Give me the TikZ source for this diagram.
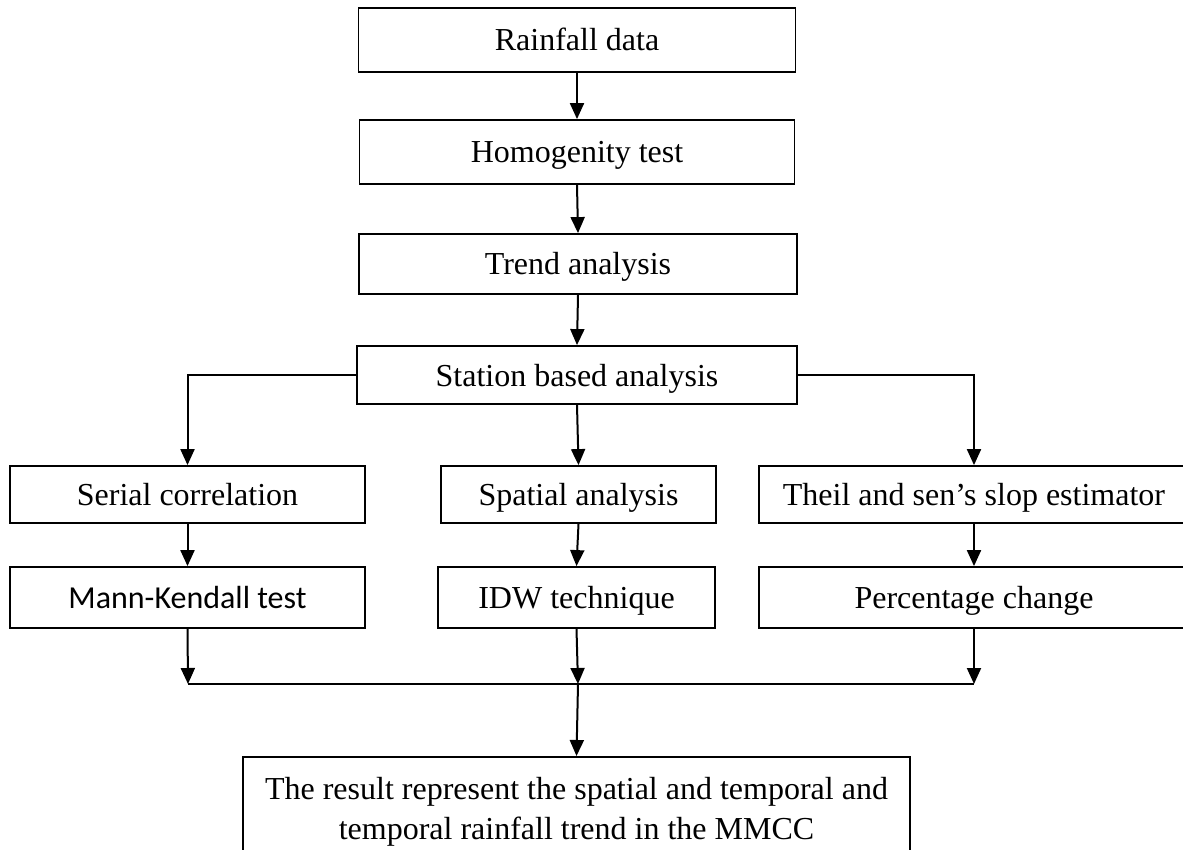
\documentclass[tikz,border=0pt]{standalone}
\usepackage{fontspec}
\setmainfont{Liberation Serif}
\newfontfamily\calib{Carlito}
\usetikzlibrary{arrows.meta}
\begin{document}
\begin{tikzpicture}[x=1pt,y=-1pt,
  box/.style={draw, line width=1.8pt, inner sep=0pt, font=\fontsize{32}{40}\selectfont, text height=22pt, text depth=0pt},
  arr/.style={line width=2pt, -{Triangle[length=16pt,width=14pt]}},
  ln/.style={line width=2pt}]
\useasboundingbox (0,0) rectangle (1183,850);
\clip (0,0) rectangle (1183,850);
% top column
\node[box, minimum width=437pt, minimum height=64pt] (rain) at (577,40) {Rainfall data};
\node[box, minimum width=435pt, minimum height=64pt] (hom) at (577,152) {Homogenity test};
\node[box, minimum width=438pt, minimum height=60pt] (trend) at (578,264) {Trend analysis};
\node[box, minimum width=440pt, minimum height=58pt] (st) at (577,375) {Station based analysis};
% second row
\node[box, minimum width=355pt, minimum height=57pt] (ser) at (187.5,494.5) {Serial correlation};
\node[box, minimum width=275pt, minimum height=57pt] (sp) at (578.5,494.5) {Spatial analysis};
\node[box, minimum width=430pt, minimum height=57pt] (th) at (974,494.5) {Theil and sen’s slop estimator};
% third row
\node[box, minimum width=355pt, minimum height=61pt, font=\calib\fontsize{32}{40}\selectfont] (mk) at (187.5,597.5) {Mann-Kendall test};
\node[box, minimum width=277pt, minimum height=61pt] (idw) at (576.5,597.5) {IDW technique};
\node[box, minimum width=430pt, minimum height=61pt] (pc) at (974,597.5) {Percentage change};
% result
\node[draw, line width=1.8pt, align=center, anchor=north, inner xsep=0pt, inner ysep=20pt,
      minimum width=667pt, font=\fontsize{32}{40}\selectfont] (res) at (576.5,756)
  {The result represent the spatial and temporal and\\temporal rainfall trend in the MMCC};
% merge coordinates
\coordinate (mL) at (188,684);
\coordinate (mC) at (578,684);
\coordinate (mR) at (974,684);
% arrows
\draw[arr] (rain.south) -- (hom.north);
\draw[arr] (hom.south) -- (trend.north);
\draw[arr] (trend.south) -- (st.north);
\draw[arr] (st.west) -| (ser.north);
\draw[arr] (st.south) -- (sp.north);
\draw[arr] (st.east) -| (th.north);
\draw[arr] (ser.south) -- (mk.north);
\draw[arr] (sp.south) -- (idw.north);
\draw[arr] (th.south) -- (pc.north);
\draw[arr] (mk.south) -- (mL);
\draw[arr] (idw.south) -- (mC);
\draw[arr] (pc.south) -- (mR);
\draw[ln] (mL) -- (mR);
\draw[arr] (mC) -- (res.north);
\end{tikzpicture}
\end{document}
